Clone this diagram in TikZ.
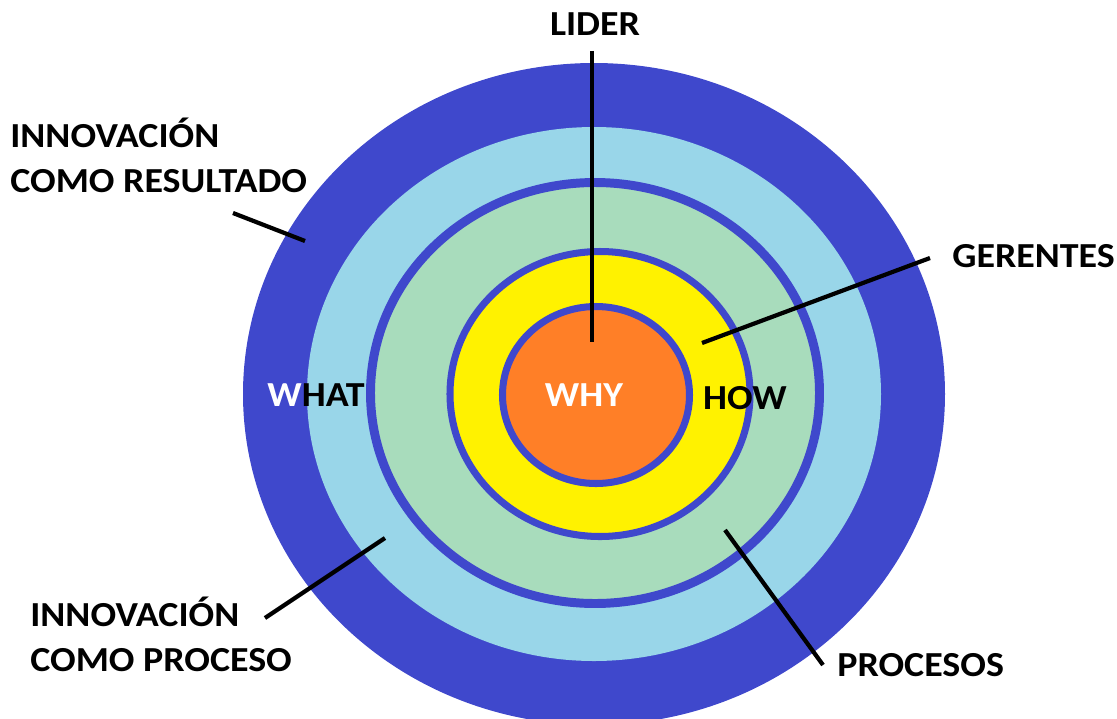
\documentclass[tikz,border=0pt]{standalone}
\usepackage{fontspec}
\setmainfont{Carlito}[FakeStretch=1.08]
\usepackage{xcolor}
\usetikzlibrary{positioning}
\definecolor{ringblue}{RGB}{63,72,204}
\definecolor{paleblue}{RGB}{153,214,233}
\definecolor{palegreen}{RGB}{168,220,188}
\definecolor{sunyellow}{RGB}{255,242,0}
\definecolor{coreorange}{RGB}{255,127,39}
\tikzset{
  lbl/.style={font=\fontsize{20}{25.5}\selectfont\bfseries, inner sep=0pt, align=left},
  pointer/.style={line width=2.4pt, black},
  border/.style={draw=ringblue, line width=#1},
}

\begin{document}
\begin{tikzpicture}[x=0.02cm, y=-0.02cm]
\useasboundingbox (0,0) rectangle (1117,718);
% rings
\fill[ringblue] (594,394) ellipse [x radius=351, y radius=331];
\fill[paleblue] (594,394) ellipse [x radius=287, y radius=267];
\draw[border=5.1pt, fill=palegreen] (595,393) ellipse [x radius=224.5, y radius=210.5];
\draw[border=4pt, fill=sunyellow] (600,394) ellipse [x radius=150, y radius=142.5];
\draw[border=4pt, fill=coreorange] (596,395) ellipse [x radius=93.5, y radius=88.5];
% ends of the pointers
\coordinate (lider-end) at (592,342);
\coordinate (gerentes-end) at (702,343);
\coordinate (procesos-end) at (725,530);
\coordinate (resultado-end) at (305,241);
\coordinate (proceso-end) at (385,538);
% labels
\node[lbl] (lider) at (595,24) {LIDER};
\node[lbl, anchor=west] (gerentes) at (952,256) {GERENTES};
\node[lbl, anchor=west] (procesos) at (837,665) {PROCESOS};
\node[lbl, anchor=south west] (resultado) at (10,193) {INNOVACIÓN\\COMO RESULTADO};
\node[lbl, anchor=south west] (proceso) at (30,672) {INNOVACIÓN\\COMO PROCESO};
\node[lbl] (what) at (316,395) {{\color{white}W}HAT};
\node[lbl, white] (why) at (584,395) {WHY};
\node[lbl] (how) at (745,398) {HOW};
% pointers
\draw[pointer] ([shift={(-3,15)}]lider.south) -- (lider-end);
\draw[pointer] ([shift={(-22,2)}]gerentes.west) -- (gerentes-end);
\draw[pointer] ([shift={(-14,0)}]procesos.west) -- (procesos-end);
\draw[pointer] ([shift={(223,20)}]resultado.south west) -- (resultado-end);
\draw[pointer] ([shift={(235,-54)}]proceso.south west) -- (proceso-end);
\end{tikzpicture}
\end{document}
